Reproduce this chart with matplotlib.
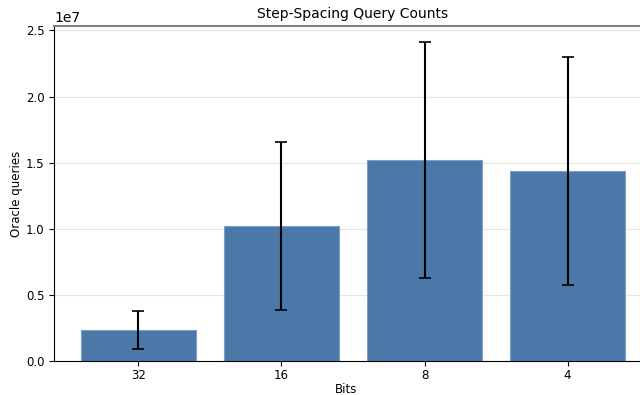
import matplotlib
matplotlib.use("Agg")
import matplotlib.pyplot as plt
import numpy as np

bits = ["32", "16", "8", "4"]
means = [2.35e6, 10.2e6, 15.2e6, 14.37e6]
errs = [1.43e6, 6.33e6, 8.93e6, 8.6e6]

fig = plt.figure(figsize=(6.4, 3.95), dpi=100)
ax = fig.add_axes([54/640, 1-361/395, (652-54)/640, (361-26)/395])
x = np.arange(len(bits))
ax.bar(x, means, width=0.8, color="#4A78A8", edgecolor="#7f9fc4", linewidth=0.8, zorder=2)
ax.errorbar(x, means, yerr=errs, fmt="none", ecolor="black", capsize=4, elinewidth=1.5, capthick=1.2, zorder=3)
ax.set_xticks(x)
ax.set_xticklabels(bits)
ax.yaxis.grid(True, color="#e6e6e6", linewidth=0.8, zorder=0)
ax.set_axisbelow(True)
ax.spines["top"].set_color("#808080")
ax.spines["top"].set_linewidth(1.5)
ax.set_title("Step-Spacing Query Counts", fontsize=10)
ax.set_xlabel("Bits", fontsize=8.5)
ax.set_ylabel("Oracle queries", fontsize=8.5)
ax.xaxis.set_label_coords((346-54)/598, (361-383)/335)
ax.yaxis.set_label_coords((23-54)/598, 0.5)
ax.tick_params(labelsize=8.5)
ax.tick_params(axis="x", pad=2.5)
fig.savefig("out.png", dpi=100)
